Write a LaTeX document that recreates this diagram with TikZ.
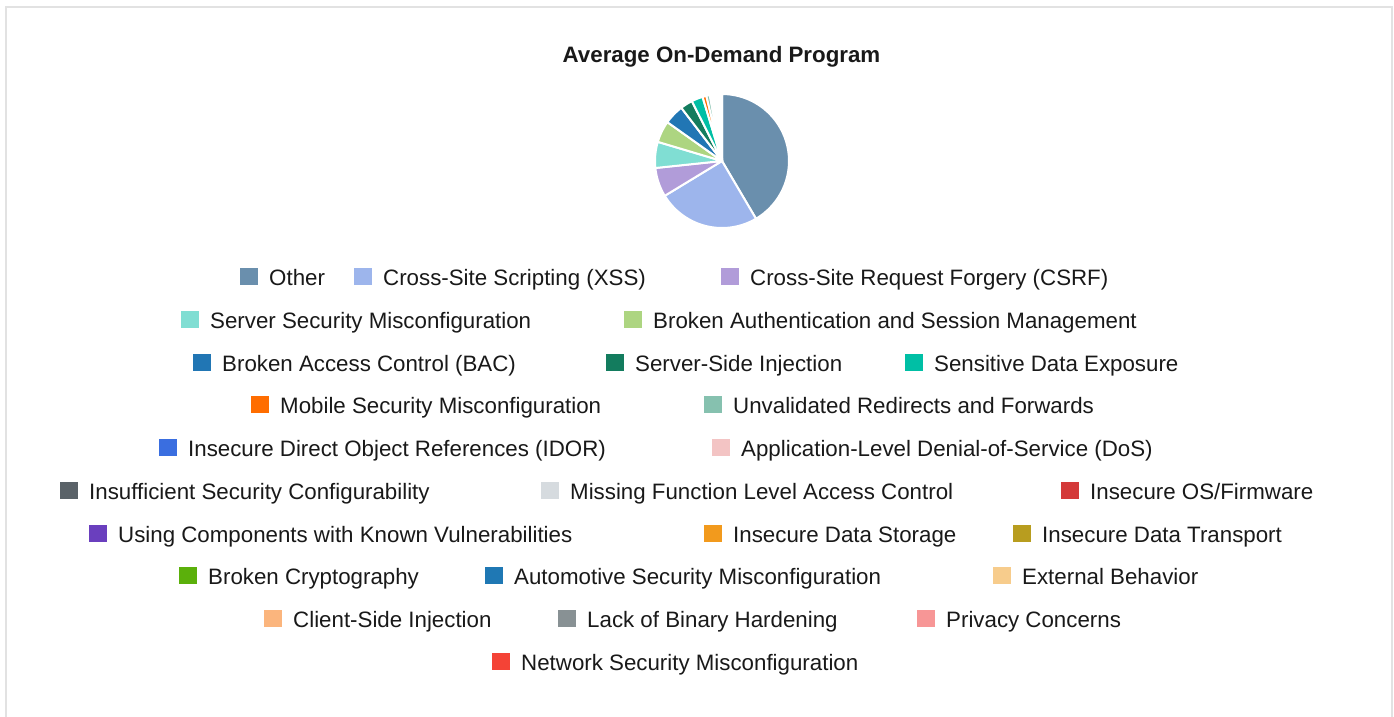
\documentclass[tikz,border=0pt]{standalone}
\usepackage{fontspec}
\setmainfont{Liberation Sans}
\definecolor{cOther}{HTML}{6A8FAD}
\definecolor{cXSS}{HTML}{9DB5EC}
\definecolor{cCSRF}{HTML}{B19CD9}
\definecolor{cSrvSec}{HTML}{80DED3}
\definecolor{cAuth}{HTML}{ADD581}
\definecolor{cBAC}{HTML}{2176B4}
\definecolor{cSSI}{HTML}{137C5E}
\definecolor{cSDE}{HTML}{00BFA5}
\definecolor{cMobile}{HTML}{FF6D00}
\definecolor{cUnval}{HTML}{86C1AF}
\definecolor{cIDOR}{HTML}{3A6EE0}
\definecolor{cDoS}{HTML}{F3C4C4}
\definecolor{cInsuff}{HTML}{5A6268}
\definecolor{cMissing}{HTML}{D6DBDF}
\definecolor{cInsOS}{HTML}{D43A3A}
\definecolor{cUsing}{HTML}{6A3FBE}
\definecolor{cStorage}{HTML}{F29A1D}
\definecolor{cTransport}{HTML}{B89D1F}
\definecolor{cCrypto}{HTML}{5BB00B}
\definecolor{cAuto}{HTML}{1F78B4}
\definecolor{cExternal}{HTML}{F7CC8C}
\definecolor{cClient}{HTML}{FBB57D}
\definecolor{cLack}{HTML}{889194}
\definecolor{cPrivacy}{HTML}{F79696}
\definecolor{cNetwork}{HTML}{F44336}
\definecolor{framegray}{HTML}{E2E2E2}
\newcommand\pieslice[3]{\fill[#3,draw=white,line width=2pt,line join=round] (722,161) -- plot[domain=#1:#2,samples=40] ({722+67*sin(\x)},{161-67*cos(\x)}) -- cycle;}
\tikzset{
  legtext/.style={anchor=base west,inner sep=0pt,font=\fontsize{22.3}{26}\selectfont,text=black!90},
  titletext/.style={anchor=base,inner sep=0pt,font=\fontsize{22.3}{26}\selectfont\bfseries,text=black!90}
}
\begin{document}
\begin{tikzpicture}[x=1pt,y=-1pt]
\useasboundingbox (0,0) rectangle (1394,717);
\fill[white] (0,0) rectangle (1394,717);
\draw[framegray,line width=2pt] (5.5,717) -- (5.5,7) -- (1392,7) -- (1392,717);
\node[titletext] (title) at (721.5,63) {Average On-Demand Program};
% pie
\pieslice{0}{149.5}{cOther}
\pieslice{149.5}{238.7}{cXSS}
\pieslice{238.7}{264}{cCSRF}
\pieslice{264}{286.6}{cSrvSec}
\pieslice{286.6}{305.4}{cAuth}
\pieslice{305.4}{322.6}{cBAC}
\pieslice{322.6}{333.3}{cSSI}
\pieslice{333.3}{343.1}{cSDE}
\pieslice{343.1}{346.5}{cMobile}
\pieslice{346.5}{349.5}{cUnval}
\pieslice{349.5}{351}{cIDOR}
\pieslice{351}{352.5}{cDoS}
\pieslice{352.5}{353.5}{cInsuff}
\pieslice{353.5}{354.5}{cMissing}
\pieslice{354.5}{355.3}{cInsOS}
\pieslice{355.3}{356}{cUsing}
\pieslice{356}{356.7}{cStorage}
\pieslice{356.7}{357.3}{cTransport}
\pieslice{357.3}{357.9}{cCrypto}
\pieslice{357.9}{358.4}{cAuto}
\pieslice{358.4}{358.9}{cExternal}
\pieslice{358.9}{359.3}{cClient}
\pieslice{359.3}{359.6}{cLack}
\pieslice{359.6}{359.8}{cPrivacy}
\pieslice{359.8}{360}{cNetwork}
% legend
\foreach \nm/\sx/\row/\col/\txt in {
  other/240/0/cOther/{Other},
  xss/354/0/cXSS/{Cross-Site Scripting (XSS)},
  csrf/721/0/cCSRF/{Cross-Site Request Forgery (CSRF)},
  srvsec/181/1/cSrvSec/{Server Security Misconfiguration},
  auth/624/1/cAuth/{Broken Authentication and Session Management},
  bac/193/2/cBAC/{Broken Access Control (BAC)},
  ssi/606/2/cSSI/{Server-Side Injection},
  sde/905/2/cSDE/{Sensitive Data Exposure},
  mobile/251/3/cMobile/{Mobile Security Misconfiguration},
  unval/704/3/cUnval/{Unvalidated Redirects and Forwards},
  idor/159/4/cIDOR/{Insecure Direct Object References (IDOR)},
  dos/712/4/cDoS/{Application-Level Denial-of-Service (DoS)},
  insuff/60/5/cInsuff/{Insufficient Security Configurability},
  missing/541/5/cMissing/{Missing Function Level Access Control},
  insos/1061/5/cInsOS/{Insecure OS/Firmware},
  using/89/6/cUsing/{Using Components with Known Vulnerabilities},
  storage/704/6/cStorage/{Insecure Data Storage},
  transport/1013/6/cTransport/{Insecure Data Transport},
  crypto/179/7/cCrypto/{Broken Cryptography},
  auto/485/7/cAuto/{Automotive Security Misconfiguration},
  external/993/7/cExternal/{External Behavior},
  client/264/8/cClient/{Client-Side Injection},
  lack/558/8/cLack/{Lack of Binary Hardening},
  privacy/917/8/cPrivacy/{Privacy Concerns},
  network/492/9/cNetwork/{Network Security Misconfiguration}}{
  \fill[\col] (\sx,{285.5+42.78*\row-17.5}) rectangle ++(18,17);
  \node[legtext] (\nm) at ({\sx+29},{285.5+42.78*\row}) {\txt};
}
\end{tikzpicture}
\end{document}
